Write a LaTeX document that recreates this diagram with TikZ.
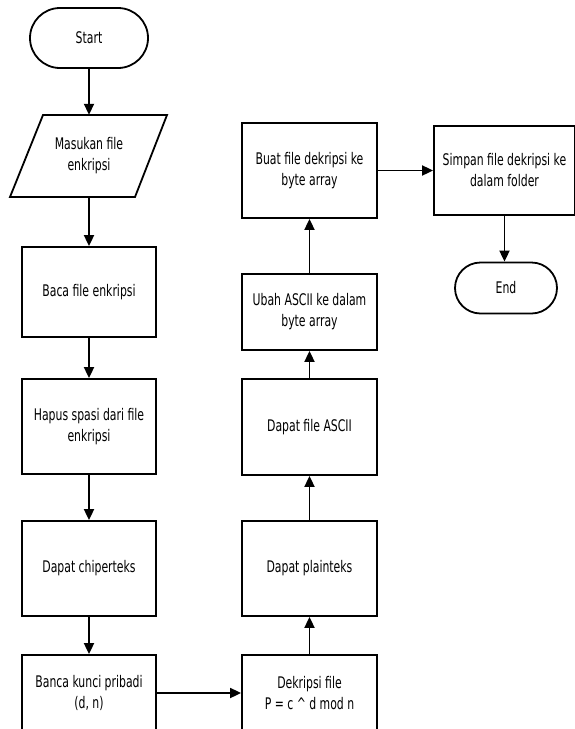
\documentclass[tikz,border=0pt]{standalone}
\usepackage{fontspec}
\setmainfont{DejaVu Sans}[FakeStretch=0.68]
\usetikzlibrary{arrows.meta}
\begin{document}
\begin{tikzpicture}[x=1pt,y=-1pt,
  every node/.style={font=\fontsize{16}{21}\selectfont, align=center},
  procbox/.style={draw, line width=1.8pt, minimum width=#1, inner sep=0pt},
  procbox/.default=134pt,
  term/.style={draw, line width=1.8pt, rounded corners=#1, inner sep=0pt},
  flow/.style={line width=1.8pt, -{Triangle[length=11pt,width=10pt]}}]
\useasboundingbox (0,0) rectangle (575,729);
\clip (0,0) rectangle (575,729);
% left column
\node[term=30pt, minimum width=118pt, minimum height=60pt] (start) at (89,38) {Start};
\node[minimum width=124pt, minimum height=82pt, inner sep=0pt] (mas) at (89,156) {Masukan file\\enkripsi};
\draw[line width=1.8pt, line join=miter] (43,115) -- (167,115) -- (135,197) -- (10,197) -- cycle;
\node[procbox, minimum height=90pt] (baca) at (89,292) {Baca file enkripsi};
\node[procbox, minimum height=95pt] (hapus) at (89,426.5) {Hapus spasi dari file\\enkripsi};
\node[procbox, minimum height=95pt] (chip) at (89,568.5) {Dapat chiperteks};
\node[procbox, minimum height=76pt] (banca) at (89,693) {Banca kunci pribadi\\(d, n)};
% middle column
\node[procbox=135pt, minimum height=76pt] (dek) at (309.5,693) {Dekripsi file\\P = c \^{} d mod n};
\node[procbox=135pt, minimum height=95pt] (plain) at (309.5,568.5) {Dapat plainteks};
\node[procbox=135pt, minimum height=96pt] (ascii) at (309.5,427) {Dapat file ASCII};
\node[procbox=135pt, minimum height=76pt] (ubah) at (309.5,312) {Ubah ASCII ke dalam\\byte array};
\node[procbox=135pt, minimum height=95pt] (buat) at (309.5,170.5) {Buat file dekripsi ke\\byte array};
% right column
\node[procbox=141pt, minimum height=89pt] (simpan) at (504.5,170.5) {Simpan file dekripsi ke\\dalam folder};
\node[term=25.5pt, minimum width=102pt, minimum height=51pt] (end) at (506,288) {End};
% connectors
\draw[flow] (start) -- (mas);
\draw[flow] (mas) -- (baca);
\draw[flow] (baca) -- (hapus);
\draw[flow] (hapus) -- (chip);
\draw[flow] (chip) -- (banca);
\draw[flow] (banca) -- (dek);
\draw[flow] (dek) -- (plain);
\draw[flow] (plain) -- (ascii);
\draw[flow] (ascii) -- (ubah);
\draw[flow] (ubah) -- (buat);
\draw[flow] (buat) -- (simpan);
\draw[flow] (simpan.south) -- (simpan.south |- end.north);
\end{tikzpicture}
\end{document}
